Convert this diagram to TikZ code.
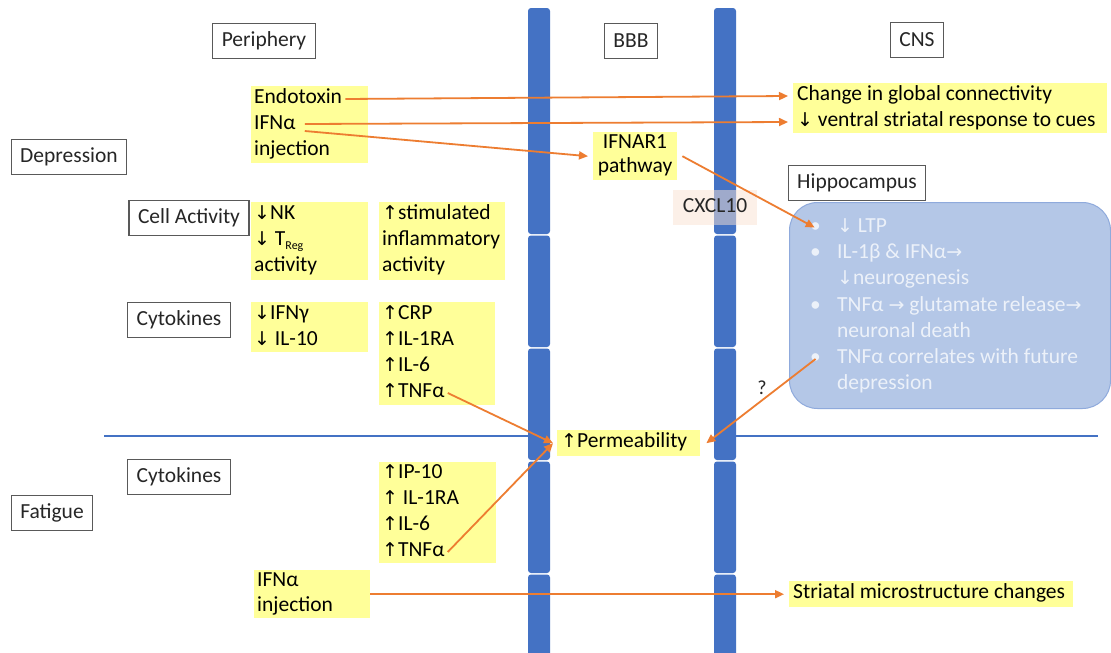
\documentclass[tikz,border=0pt]{standalone}
\usepackage{fontspec}
\setmainfont{Carlito}
\newfontfamily\symfont{DejaVu Sans}
\usetikzlibrary{arrows.meta}

\definecolor{barblue}{RGB}{68,114,196}
\definecolor{hiyel}{RGB}{255,255,153}
\definecolor{arrorange}{RGB}{237,125,49}
\definecolor{boxgray}{RGB}{89,89,89}
\definecolor{hipfill}{RGB}{180,199,231}
\definecolor{hipedge}{RGB}{143,170,220}
\definecolor{hiptext}{RGB}{236,241,249}
\definecolor{cxpink}{RGB}{251,226,210}
\definecolor{inkgray}{RGB}{38,38,38}

\newcommand{\mainfs}{\fontsize{21.5}{26}\selectfont}
\newcommand{\UpA}{{\symfont\fontsize{19}{19}\selectfont\char"2191}}
\newcommand{\DnA}{{\symfont\fontsize{19}{19}\selectfont\char"2193}}
\newcommand{\RtA}{{\symfont\fontsize{19}{19}\selectfont\char"2192}}
\newcommand{\Sub}[1]{\raisebox{-4pt}{\fontsize{12}{12}\selectfont #1}}

\tikzset{
  lbl/.style={draw=boxgray, line width=1.3pt, fill=white, inner xsep=9pt,
    minimum height=35pt, text=inkgray, font=\mainfs},
  hl/.style={fill=hiyel, draw=none, inner sep=0pt, anchor=north west},
  tx/.style={inner sep=0pt, anchor=west, text height=14pt, text depth=5pt,
    text=black, font=\mainfs},
  htx/.style={tx, text=hiptext},
  conn/.style={draw=arrorange, line width=1.8pt,
    -{Triangle[length=9pt,width=8pt]}},
  divider/.style={draw=barblue, line width=2.5pt},
}

\begin{document}
\begin{tikzpicture}[x=1pt,y=-1pt]
\useasboundingbox (0,0) rectangle (1111,653);
\fill[white] (0,0) rectangle (1111,653);

% horizontal divider between depression and fatigue
\draw[divider] (104,436) -- (528,436);
\draw[divider] (736,436) -- (1098,436);

% the two membrane bars of the blood-brain barrier
\foreach \bx in {528,714}{
  \foreach \ya/\yb in {8/234, 235.5/347, 348.5/460, 461.5/573, 574.5/665}{
    \fill[barblue, rounded corners=3pt] (\bx,\ya) rectangle (\bx+22,\yb);
  }
}

% column and row headers
\node[lbl] (periph) at (264,41) {Periphery};
\node[lbl] (bbb) at (631,41) {BBB};
\node[lbl] (cns) at (917,40) {CNS};
\node[lbl] (depr) at (69,157) {Depression};
\node[lbl] (cellact) at (189,218) {Cell Activity};
\node[lbl] (cytoA) at (179,320) {Cytokines};
\node[lbl] (cytoB) at (179,477) {Cytokines};
\node[lbl] (fatig) at (52,513) {Fatigue};

% periphery: depression
\node[hl, minimum width=117pt, minimum height=77pt] (endobg) at (251,86) {};
\node[tx] (endo) at (254,99) {Endotoxin};
\node[tx] (ifna) at (254,125) {IFNα};
\node[tx] (injA) at (254,151) {injection};

\node[hl, minimum width=117pt, minimum height=78pt] (nkbg) at (251,202) {};
\node[tx] (nk) at (254,215) {\DnA NK};
\node[tx] (treg) at (254,241) {\DnA\ T\Sub{Reg}};
\node[tx] (actA) at (254,267) {activity};

\node[hl, minimum width=126pt, minimum height=78pt] (stimbg) at (379,202) {};
\node[tx] (stim) at (382,215) {\UpA stimulated};
\node[tx] (infl) at (382,241) {inflammatory};
\node[tx] (actB) at (382,267) {activity};

\node[hl, minimum width=117pt, minimum height=50pt] (ifngbg) at (251,302) {};
\node[tx] (ifng) at (254,315) {\DnA IFNγ};
\node[tx] (il10) at (254,341) {\DnA\ IL-10};

\node[hl, minimum width=116pt, minimum height=103pt] (crpbg) at (379,302) {};
\node[tx] (crp) at (382,315) {\UpA CRP};
\node[tx] (ilraA) at (382,341) {\UpA IL-1RA};
\node[tx] (il6A) at (382,367) {\UpA IL-6};
\node[tx] (tnfA) at (382,393) {\UpA TNFα};

% periphery: fatigue
\node[hl, minimum width=117pt, minimum height=101pt] (ipbg) at (379,462) {};
\node[tx] (ip10) at (382,474) {\UpA IP-10};
\node[tx] (ilraB) at (382,500) {\UpA\ IL-1RA};
\node[tx] (il6B) at (382,526) {\UpA IL-6};
\node[tx] (tnfB) at (382,552) {\UpA TNFα};

\node[hl, minimum width=116pt, minimum height=48pt] (injbg) at (254,570) {};
\node[tx] (ifnaB) at (257,582) {IFNα};
\node[tx] (injB) at (257,607) {injection};

% barrier
\node[hl, minimum width=84pt, minimum height=48pt] (ifnarbg) at (593,132) {};
\node[tx, anchor=center] (ifnar) at (635,144) {IFNAR1};
\node[tx, anchor=center] (pathw) at (635,168) {pathway};

\node[fill=cxpink, fill opacity=0.5, text opacity=1, inner sep=0pt,
  minimum width=84pt, minimum height=35pt, anchor=north west] (cxbg) at (673,190) {};
\node[tx, anchor=center, text=inkgray] (cxcl) at (715,208) {CXCL10};

\node[hl, minimum width=143pt, minimum height=26pt] (permbg) at (557,430) {};
\node[tx] (perm) at (561,443) {\UpA Permeability};

% central nervous system
\node[hl, minimum width=314pt, minimum height=50pt] (chgbg) at (793,83) {};
\node[tx] (chg) at (797,96) {Change in global connectivity};
\node[tx] (vent) at (797,122) {\DnA\ ventral striatal response to cues};

\node[lbl] (hipplbl) at (857,183) {Hippocampus};
\node[draw=hipedge, fill=hipfill, line width=1pt, rounded corners=28pt,
  minimum width=321pt, minimum height=206pt, anchor=north west] (hipbox) at (789,202) {};
\node[htx] (b1) at (810,228) {•};
\node[htx] (ltp) at (837,228) {\DnA\ LTP};
\node[htx] (b2) at (810,254) {•};
\node[htx] (il1b) at (837,254) {IL-1β \& IFNα\RtA};
\node[htx] (neuro) at (837,280) {\DnA neurogenesis};
\node[htx] (b3) at (810,307) {•};
\node[htx] (glut) at (837,307) {TNFα \RtA\ glutamate release\RtA};
\node[htx] (death) at (837,333) {neuronal death};
\node[htx] (b4) at (810,359) {•};
\node[htx] (corr) at (837,359) {TNFα correlates with future};
\node[htx] (futd) at (837,385) {depression};

\node[hl, minimum width=284pt, minimum height=26pt] (strbg) at (789,581) {};
\node[tx] (str) at (793,594) {Striatal microstructure changes};

\node[text=inkgray, font=\fontsize{20}{20}\selectfont, inner sep=0pt] (qm) at (762,388) {?};

% connectors
\draw[conn] ([xshift=3pt]endo.east) -- ([xshift=-9pt]chg.west);
\draw[conn] ([xshift=9pt,yshift=1pt]ifna.east) -- ([xshift=-9pt]vent.west);
\draw[conn] ([xshift=9pt,yshift=-6pt]ifna.east) -- ([xshift=-5pt]ifnarbg.west);
\draw[conn, shorten >=1pt] ([xshift=5pt]ifnarbg.east) -- (b1.center);
\draw[conn] ([xshift=3pt]tnfA.east) -- ([xshift=-4pt]permbg.west);
\draw[conn] ([xshift=3pt]tnfB.east) -- ([xshift=-4pt]permbg.west);
\draw[conn] (b4.center) -- ([xshift=6pt]permbg.east);
\draw[conn] (injbg.east) -- ([xshift=-5pt]strbg.west);
\end{tikzpicture}
\end{document}
